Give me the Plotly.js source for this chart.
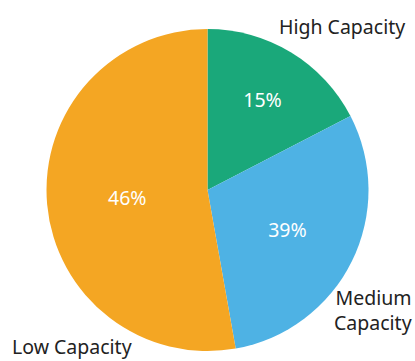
<!DOCTYPE html>
<html>
<head>
<meta charset="utf-8">
<script src="https://cdn.plot.ly/plotly-3.0.1.min.js"></script>
<style>html,body{margin:0;padding:0;background:#fff;}#chart{width:415px;height:361px;}</style>
</head>
<body>
<div id="chart"></div>
<script>
// Slice sizes as drawn (measured from slice angles) and their printed labels
var categories = ["High Capacity", "Medium Capacity", "Low Capacity"];
var sliceValues = [17.4, 29.8, 52.8];
var percentLabels = ["15%", "39%", "46%"];
var sliceColors = ["#1aa87a", "#4eb2e4", "#f4a623"];

var W = 415, H = 361;
var cx = 207.5, cy = 190, r = 161;

var trace = {
  type: "pie",
  labels: categories,
  values: sliceValues,
  text: percentLabels,
  textinfo: "text",
  textposition: "inside",
  insidetextorientation: "horizontal",
  insidetextfont: {family: "Noto Sans, sans-serif", size: 19.5, color: "#ffffff"},
  marker: {colors: sliceColors, line: {width: 0}},
  sort: false,
  direction: "clockwise",
  rotation: 0,
  hoverinfo: "label+text",
  domain: {
    x: [(cx - r) / W, (cx + r) / W],
    y: [(H - cy - r) / H, (H - cy + r) / H]
  }
};

var lblFont = {family: "Noto Sans, sans-serif", size: 19.5, color: "#222222"};
var layout = {
  width: W, height: H,
  margin: {l: 0, r: 0, t: 0, b: 0},
  paper_bgcolor: "#ffffff",
  showlegend: false,
  annotations: [
    {text: categories[0], x: 342 / W, y: (H - 27) / H, xref: "paper", yref: "paper",
     xanchor: "center", yanchor: "middle", showarrow: false, font: lblFont},
    {text: "Medium<br>Capacity", x: 414 / W, y: (H - 310) / H, xref: "paper", yref: "paper",
     xanchor: "right", yanchor: "middle", align: "right", showarrow: false, font: lblFont},
    {text: categories[2], x: 72 / W, y: (H - 346) / H, xref: "paper", yref: "paper",
     xanchor: "center", yanchor: "middle", showarrow: false, font: lblFont}
  ]
};

Plotly.newPlot("chart", [trace], layout, {displayModeBar: false, staticPlot: true});
</script>
</body>
</html>
